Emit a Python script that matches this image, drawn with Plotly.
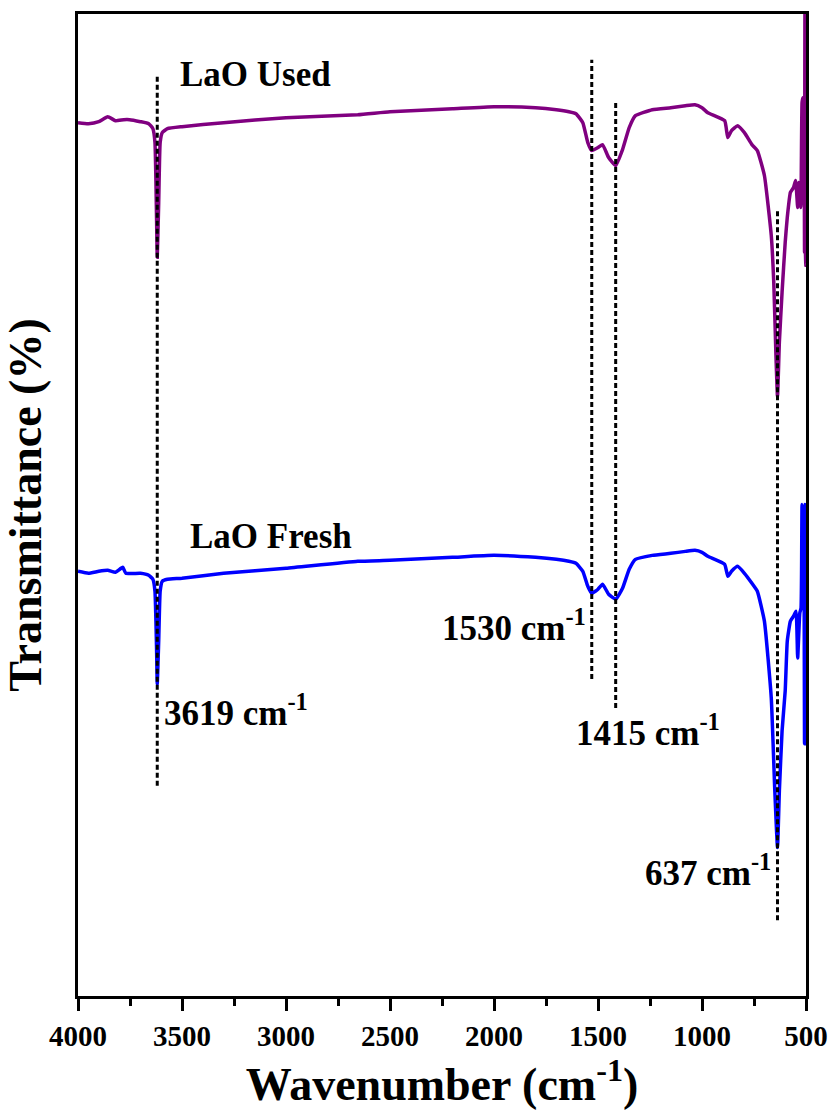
import plotly.graph_objects as go

# ---- data (transmittance, arbitrary units) ----
wn_used = [4000, 3950, 3900, 3857, 3820, 3780, 3752, 3700, 3660, 3640, 3630, 3622, 3619, 3612, 3605, 3595,
           3570, 3500, 3300, 3000, 2655, 2500, 2200, 2000, 1800, 1700, 1640, 1606, 1573, 1549, 1530, 1500,
           1478, 1449, 1415, 1382, 1350, 1320, 1239, 1150, 1080, 1034, 1000, 972, 891, 876, 858, 829, 796, 760, 734,
           700, 667, 655, 645, 637, 628, 615, 600, 590, 575, 560, 550, 540, 535, 525, 519, 515, 511, 509,
           507, 505, 502, 500]
t_used = [87.6, 87.5, 87.7, 88.2, 87.8, 87.9, 87.9, 87.7, 87.5, 87.0, 85.6, 77.6, 74.1, 79.6, 85.6, 86.6,
          87.0, 87.2, 87.6, 88.1, 88.4, 88.7, 89.0, 89.2, 89.1, 88.9, 88.7, 88.5, 87.6, 85.6, 84.8, 85.1,
          85.4, 84.1, 83.3, 84.9, 87.1, 88.3, 88.9, 89.1, 89.3, 89.4, 89.1, 88.6, 87.8, 86.1, 86.8, 87.3, 86.6, 85.4, 84.8,
          82.3, 76.3, 71.6, 64.6, 60.1, 65.6, 70.6, 75.6, 78.1, 80.6, 81.1, 81.8, 79.1, 81.6, 79.1, 89.6, 90.1,
          81.6, 88.6, 74.6, 100.0, 73.3, 73.3]

wn_fresh = [4000, 3950, 3900, 3857, 3820, 3785, 3770, 3700, 3660, 3640, 3630, 3622, 3619, 3612, 3605, 3595,
            3570, 3500, 3300, 3000, 2655, 2500, 2200, 2000, 1800, 1700, 1640, 1606, 1573, 1549, 1530, 1500,
            1478, 1449, 1415, 1382, 1350, 1320, 1239, 1150, 1080, 1034, 1000, 972, 891, 876, 858, 829, 796, 760, 734,
            700, 667, 650, 637, 628, 615, 600, 590, 575, 560, 548, 540, 530, 524, 519, 515, 512, 510,
            507, 505, 502, 500]
t_fresh = [42.6, 42.4, 42.6, 42.7, 42.5, 43.0, 42.4, 42.4, 42.2, 41.8, 40.6, 34.6, 31.3, 35.6, 40.6, 41.6,
           41.8, 41.9, 42.4, 42.9, 43.6, 43.7, 44.0, 44.2, 44.0, 43.8, 43.6, 43.4, 42.6, 41.1, 40.4, 40.8,
           41.3, 40.3, 39.8, 40.9, 42.8, 43.8, 44.2, 44.4, 44.6, 44.7, 44.5, 44.1, 43.3, 42.1, 42.6, 43.1, 42.4, 41.4, 40.6,
           37.6, 29.9, 20.6, 14.9, 20.6, 26.6, 30.6, 35.6, 37.6, 38.1, 38.6, 33.9, 38.4, 38.9, 49.3, 47.6,
           39.6, 48.6, 25.3, 49.3, 25.3, 25.3]

peaks = [3619, 1530, 1415, 637]
peak_top = [92.3, 93.9, 89.6, 78.9]
peak_bottom = [21.1, 31.8, 28.9, 7.6]
peak_labels = ["3619 cm<sup>-1</sup>", "1530 cm<sup>-1</sup>", "1415 cm<sup>-1</sup>", "637 cm<sup>-1</sup>"]
label_y = [28.6, 37.2, 26.6, 12.6]
label_anchor = ["left", "right", "center", "right"]
label_shift = [5, -4, 32, -5]

series_names = ["LaO Used", "LaO Fresh"]
series_label_x = [3520, 3470]
series_label_y = [92.4, 46.1]

x_ticks = [4000, 3500, 3000, 2500, 2000, 1500, 1000, 500]

FONT = "Liberation Serif"
LABEL_SIZE = 35

fig = go.Figure()
fig.add_trace(go.Scatter(x=wn_used, y=t_used, mode="lines", name=series_names[0],
                         line=dict(color="#800080", width=3.5, shape="spline", smoothing=0.4)))
fig.add_trace(go.Scatter(x=wn_fresh, y=t_fresh, mode="lines", name=series_names[1],
                         line=dict(color="#0000FF", width=3.5, shape="spline", smoothing=0.4)))

for p, top, bot in zip(peaks, peak_top, peak_bottom):
    fig.add_shape(type="line", x0=p, x1=p, y0=bot, y1=top, xref="x", yref="y",
                  line=dict(color="black", width=3, dash="5px,3px"), layer="above")

for p, txt, ly, anc, sh in zip(peaks, peak_labels, label_y, label_anchor, label_shift):
    fig.add_annotation(x=p, y=ly, text=txt, showarrow=False, xanchor=anc, yanchor="middle",
                       xshift=sh, font=dict(family=FONT, size=LABEL_SIZE, color="black", weight="bold"))

for name, lx, ly in zip(series_names, series_label_x, series_label_y):
    fig.add_annotation(x=lx, y=ly, text=name, showarrow=False, xanchor="left", yanchor="middle",
                       font=dict(family=FONT, size=LABEL_SIZE, color="black", weight="bold"))

fig.update_layout(
    width=839, height=1114,
    margin=dict(l=78, r=27, t=11, b=118),
    plot_bgcolor="white", paper_bgcolor="white",
    showlegend=False,
    font=dict(family=FONT, color="black"),
)
fig.update_xaxes(
    range=[4000, 500], tickvals=x_ticks, ticktext=[str(v) for v in x_ticks],
    ticks="outside", ticklen=12, tickwidth=2.5, tickcolor="black",
    minor=dict(dtick=250, tick0=500, ticks="outside", ticklen=7, tickwidth=2.5, tickcolor="black"),
    showline=True, linewidth=2.5, linecolor="black", mirror=True, showgrid=False, zeroline=False,
    tickfont=dict(family=FONT, size=29, color="black", weight="bold"),
    title=dict(text="Wavenumber (cm<sup>-1</sup>)", standoff=14,
               font=dict(family=FONT, size=46, color="black", weight="bold")),
)
fig.update_yaxes(
    range=[0, 98.5], showticklabels=False, ticks="",
    showline=True, linewidth=2.5, linecolor="black", mirror=True, showgrid=False, zeroline=False,
    title=dict(text="Transmittance (%)", standoff=20,
               font=dict(family=FONT, size=46, color="black", weight="bold")),
)

fig.write_html("out.html")
